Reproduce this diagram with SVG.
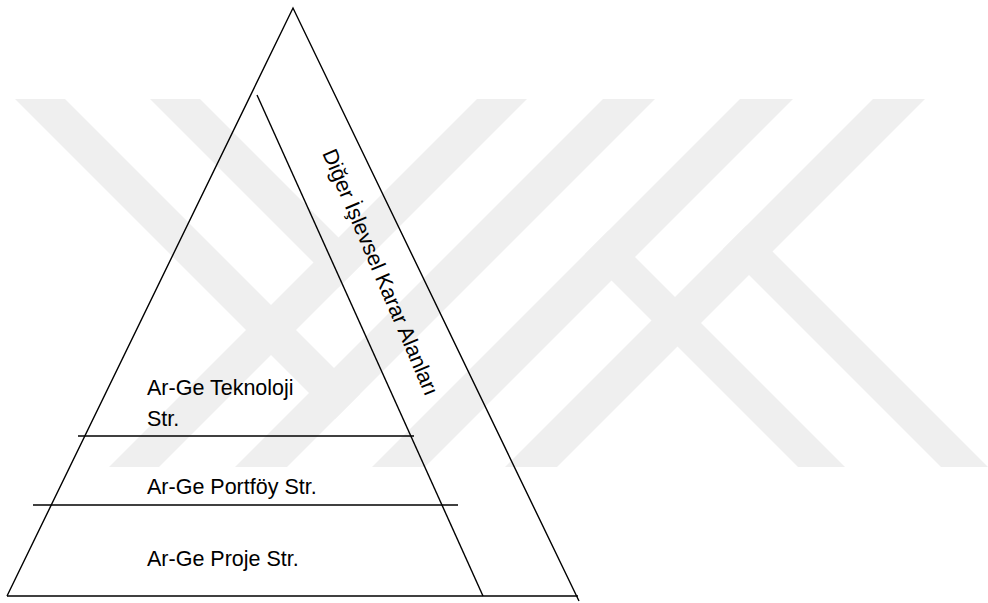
<svg xmlns="http://www.w3.org/2000/svg" width="988" height="603" viewBox="0 0 988 603">
<style>
.wm{fill:#efefef}
.ln{stroke:#000;stroke-width:1.4;fill:none}
.tx{font-family:"Liberation Sans",Arial,sans-serif;font-size:21.5px;fill:#000}
</style>
<rect width="988" height="603" fill="#fff"/>
<g id="watermark">
<polygon class="wm" points="15,99 65,99 360,394 335,419"/>
<polygon class="wm" points="150,99 200,99 363.5,262.5 338.5,287.5"/>
<polygon class="wm" points="477,99 527,99 159,467 109,467"/>
<polygon class="wm" points="603,99 655,99 287,467 235,467"/>
<polygon class="wm" points="740,99 793,99 425,467 372,467"/>
<polygon class="wm" points="873,99 925,99 557,467 505,467"/>
<polygon class="wm" points="608.5,230.5 845,467 798,467 585,254"/>
<polygon class="wm" points="746.5,225.5 988,467 941,467 723,249"/>
</g>
<g id="connectors">
<path class="ln" d="M7,596 L293,8 L579,601"/>
<path class="ln" d="M7,596 H578"/>
<path class="ln" d="M257,95 L483,596"/>
<path class="ln" d="M78,436 H414"/>
<path class="ln" d="M33,505 H458"/>
</g>
<g id="node-teknoloji">
<text class="tx" x="147" y="395">Ar-Ge Teknoloji</text>
<text class="tx" x="147" y="426">Str.</text>
</g>
<g id="node-portfoy">
<text class="tx" x="147" y="494">Ar-Ge Portföy Str.</text>
</g>
<g id="node-proje">
<text class="tx" x="147" y="566">Ar-Ge Proje Str.</text>
</g>
<g id="node-diger">
<text class="tx" transform="translate(322,153) rotate(67)">Diğer İşlevsel Karar Alanları</text>
</g>
</svg>
